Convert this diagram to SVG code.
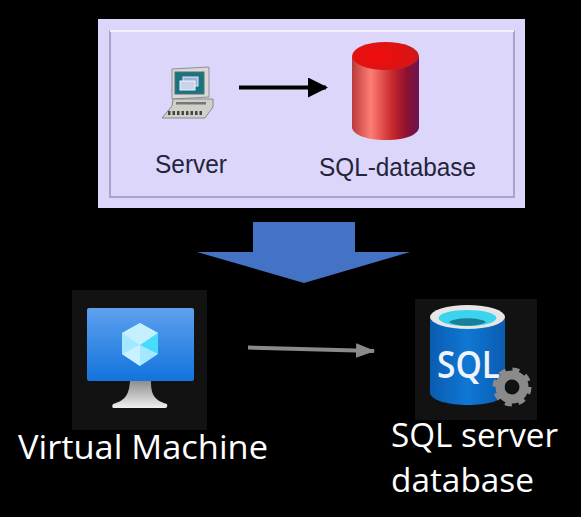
<svg xmlns="http://www.w3.org/2000/svg" width="581" height="517" viewBox="0 0 581 517">
<style>
.w{font-family:"Open Sans","Noto Sans",sans-serif;font-size:33.5px;fill:#fff}
.d{font-family:"Liberation Sans",Arial,sans-serif;font-size:25px;fill:#24243c}
</style>
<defs>
<linearGradient id="cyl" x1="0" x2="1" y1="0" y2="0"><stop offset="0" stop-color="#b83a3a"/><stop offset=".28" stop-color="#ff7d75"/><stop offset=".6" stop-color="#c8282c"/><stop offset=".82" stop-color="#8c1030"/><stop offset="1" stop-color="#6a1550"/></linearGradient>
<radialGradient id="top" cx=".35" cy=".5" r=".75"><stop offset="0" stop-color="#f00c0c"/><stop offset=".7" stop-color="#dc1414"/><stop offset="1" stop-color="#b02028"/></radialGradient>
<linearGradient id="scr" x1="0" x2="0" y1="0" y2="1"><stop offset="0" stop-color="#5ea0ef"/><stop offset="1" stop-color="#1274dc"/></linearGradient>
<linearGradient id="stand" x1="0" x2="0" y1="0" y2="1"><stop offset="0" stop-color="#8d8d8d"/><stop offset="1" stop-color="#f0f0f0"/></linearGradient>
<linearGradient id="dbb" x1="0" x2="1" y1="0" y2="0"><stop offset="0" stop-color="#0a5cb0"/><stop offset=".5" stop-color="#0f78d4"/><stop offset="1" stop-color="#0a5cb0"/></linearGradient>
<marker id="ah" markerWidth="5" markerHeight="5" refX="4.500" refY="2.500" orient="auto"><path d="M0 0L5 2.500L0 5Z" fill="#000"/></marker>
<marker id="ag" markerWidth="5" markerHeight="4" refX="4.500" refY="2" orient="auto"><path d="M0 .2L4.800 2L0 3.800Z" fill="#8a8a8a"/></marker>
</defs>
<rect width="581" height="517" fill="#000"/>
<g id="panel">
<rect x="98" y="19" width="427" height="189" fill="#dcd6fb"/>
<rect x="110" y="31" width="404" height="166" fill="none" stroke="#a8a2cc" stroke-width="2"/>
<path d="M110 31H514" stroke="#f2effe" stroke-width="2" fill="none"/>
</g>
<g id="server">
<path d="M172 69L209 67L209 97L172 99Z" fill="#d8d8d4" stroke="#8d9098" stroke-width="1"/>
<rect x="175" y="72" width="29" height="22" fill="#1a7480" stroke="#5a6a78"/>
<rect x="183" y="77" width="15" height="9" fill="#9fb0d8" stroke="#e4e8f4"/>
<rect x="180" y="81" width="15" height="9" fill="#c8d4ec" stroke="#f0f4ff"/>
<path d="M173 99H213V107L205 118H162L172 106Z" fill="#d0d0c8" stroke="#888" stroke-width="1"/>
<path d="M168 113H203" stroke="#444" stroke-width="4" stroke-dasharray="2.500 2"/>
<rect x="176" y="102" width="30" height="2.500" fill="#777"/>
</g>
<g id="sql-database">
<path d="M352 57V127C352 134 365 140 386 140C407 140 419 134 419 127V57Z" fill="url(#cyl)"/>
<ellipse cx="385.500" cy="56" rx="33.500" ry="14" fill="url(#top)"/>
</g>
<g id="vm">
<rect x="72" y="290" width="135" height="140" fill="#121212"/>
<rect x="87" y="308" width="107" height="73" rx="2" fill="url(#scr)"/>
<path d="M130 381H151C151 393 153 400 167 404Q168 408 165 408H114Q111 408 113 404C127 400 129 393 130 381Z" fill="url(#stand)"/>
<path d="M140 323L158 333V354L140 366L122 354V333Z" fill="#a4e8ff"/>
<path d="M140 323L158 333L140 345L122 333Z" fill="#c4f0ff"/>
<path d="M140 345L158 333V354Z" fill="#48dcfc"/>
<path d="M140 345V366L122 354Z" fill="#c8f2ff"/>
</g>
<g id="sql-server">
<rect x="415" y="299" width="122" height="121" fill="#121212"/>
<path d="M430 317V392C430 401 450 405 468 405C486 405 505 401 505 392V317Z" fill="url(#dbb)"/>
<ellipse cx="467.500" cy="317" rx="37.500" ry="12" fill="#e6e6e6"/>
<ellipse cx="467.500" cy="318" rx="29" ry="8" fill="#3ad4f0"/>
<path d="M449 322C456 317 479 317 486 322C479 327 456 327 449 322Z" fill="#1a8098"/>
<text x="437" y="378" font-family="'Open Sans','Noto Sans',sans-serif" font-weight="600" font-size="38" fill="#eef4fb" textLength="63" lengthAdjust="spacingAndGlyphs">SQL</text>
<circle cx="512" cy="387" r="12" fill="none" stroke="#8a8a8a" stroke-width="9"/>
<circle cx="512" cy="387" r="17" fill="none" stroke="#8a8a8a" stroke-width="5" stroke-dasharray="6.700 6.650"/>
<circle cx="512" cy="387" r="6" fill="#121212"/>
</g>
<g id="connectors">
<path d="M239 87.500H326" stroke="#000" stroke-width="4" fill="none" marker-end="url(#ah)"/>
<path d="M248 347.500L374 351" stroke="#8a8a8a" stroke-width="4" fill="none" marker-end="url(#ag)"/>
<path id="down-arrow" d="M253 222H355V252H410L304 283L197 252H253Z" fill="#4472c4"/>
</g>
<g id="labels">
<text class="d" x="155" y="173" textLength="72" lengthAdjust="spacingAndGlyphs">Server</text>
<text class="d" x="319" y="176" textLength="157" lengthAdjust="spacingAndGlyphs">SQL-database</text>
<text class="w" x="18" y="459" textLength="250" lengthAdjust="spacingAndGlyphs">Virtual Machine</text>
<text class="w" x="391" y="447" textLength="167" lengthAdjust="spacingAndGlyphs">SQL server</text>
<text class="w" x="391" y="492" textLength="143" lengthAdjust="spacingAndGlyphs">database</text>
</g>
</svg>
